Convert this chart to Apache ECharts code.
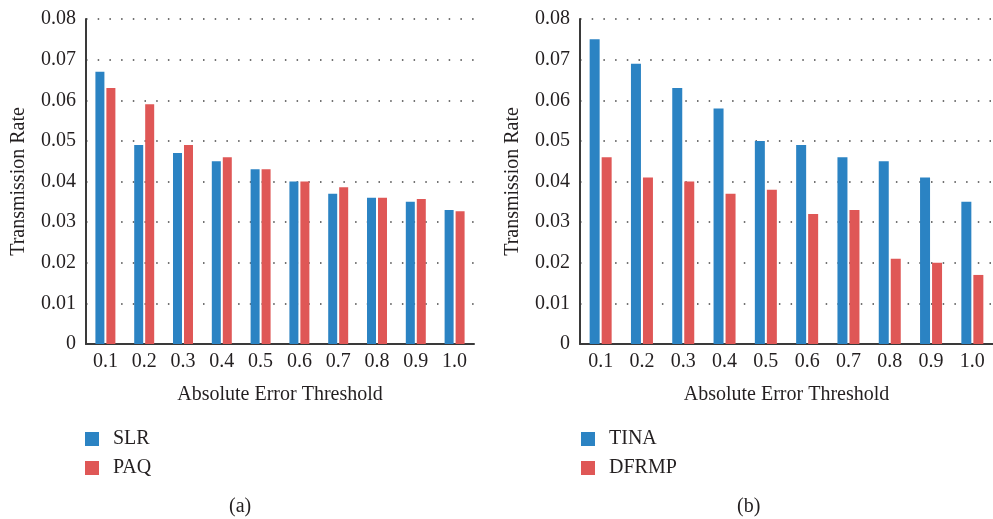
<!DOCTYPE html>
<html>
<head>
<meta charset="utf-8">
<script src="https://cdn.jsdelivr.net/npm/echarts@6/dist/echarts.min.js"></script>
<style>html,body{margin:0;padding:0;background:#fff}#c{width:993px;height:519px}</style>
</head>
<body>
<div id="c"></div>
<script>
var categories = ['0.1','0.2','0.3','0.4','0.5','0.6','0.7','0.8','0.9','1.0'];
var slr   = [0.067, 0.049, 0.047, 0.045, 0.043, 0.040, 0.037, 0.036, 0.035, 0.033];
var paq   = [0.063, 0.059, 0.049, 0.046, 0.043, 0.040, 0.0386, 0.036, 0.0357, 0.0327];
var tina  = [0.075, 0.069, 0.063, 0.058, 0.050, 0.049, 0.046, 0.045, 0.041, 0.035];
var dfrmp = [0.046, 0.041, 0.040, 0.037, 0.038, 0.032, 0.033, 0.021, 0.020, 0.017];
var yMin = 0, yMax = 0.08, yStep = 0.01;
var xTitle = 'Absolute Error Threshold';
var yTitle = 'Transmission Rate';
var panelLabels = ['(a)', '(b)'];

var FONT = '"Liberation Serif", "Times New Roman", serif';
var TXT = '#231f20';
var BLUE = '#2b83c3', RED = '#df5756';

function xAxis(gi) {
  return {
    type: 'category', gridIndex: gi, data: categories,
    axisTick: {show: false},
    axisLine: {lineStyle: {color: '#3a3a3a', width: 2}},
    axisLabel: {fontFamily: FONT, fontSize: 20, color: TXT, margin: 8},
    name: xTitle, nameLocation: 'middle', nameGap: 41,
    nameTextStyle: {fontFamily: FONT, fontSize: 20, color: TXT}
  };
}
function yAxis(gi) {
  return {
    type: 'value', gridIndex: gi, min: yMin, max: yMax, interval: yStep,
    axisTick: {show: false},
    axisLine: {show: true, lineStyle: {color: '#3a3a3a', width: 2}},
    axisLabel: {fontFamily: FONT, fontSize: 20, color: TXT, margin: 10,
      formatter: function (v) { return v === 0 ? '0' : v.toFixed(2); }},
    splitLine: {show: true, lineStyle: {color: '#444', width: 1.5, type: [1.5, 10.2]}},
    name: yTitle, nameLocation: 'middle', nameGap: 57,
    nameTextStyle: {fontFamily: FONT, fontSize: 20, color: TXT}
  };
}
function legend(x, names) {
  return {
    left: x, top: 429, padding: 0, orient: 'vertical', icon: 'rect',
    itemWidth: 14, itemHeight: 14, itemGap: 9,
    data: names,
    textStyle: {fontFamily: FONT, fontSize: 20, color: TXT, padding: [0, 0, 0, 9]}
  };
}

var chart = echarts.init(document.getElementById('c'), null, {renderer: 'canvas'});
chart.setOption({
  animation: false,
  grid: [
    {left: 86, top: 19, width: 388, height: 325},
    {left: 580, top: 19, width: 420, height: 325}
  ],
  xAxis: [xAxis(0), xAxis(1)],
  yAxis: [yAxis(0), yAxis(1)],
  legend: [legend(85, ['SLR', 'PAQ']), legend(581, ['TINA', 'DFRMP'])],
  series: [
    {name: 'SLR', type: 'bar', xAxisIndex: 0, yAxisIndex: 0, data: slr, barWidth: 9, barGap: '22%', itemStyle: {color: BLUE}},
    {name: 'PAQ', type: 'bar', xAxisIndex: 0, yAxisIndex: 0, data: paq, barWidth: 9, barGap: '22%', itemStyle: {color: RED}},
    {name: 'TINA', type: 'bar', xAxisIndex: 1, yAxisIndex: 1, data: tina, barWidth: 10, barGap: '20%', itemStyle: {color: BLUE}},
    {name: 'DFRMP', type: 'bar', xAxisIndex: 1, yAxisIndex: 1, data: dfrmp, barWidth: 10, barGap: '20%', itemStyle: {color: RED}}
  ],
  graphic: [
    {type: 'text', left: 229, top: 497, style: {text: panelLabels[0], font: '20px ' + FONT, fill: TXT}},
    {type: 'text', left: 737, top: 497, style: {text: panelLabels[1], font: '20px ' + FONT, fill: TXT}}
  ]
});
</script>
</body>
</html>
